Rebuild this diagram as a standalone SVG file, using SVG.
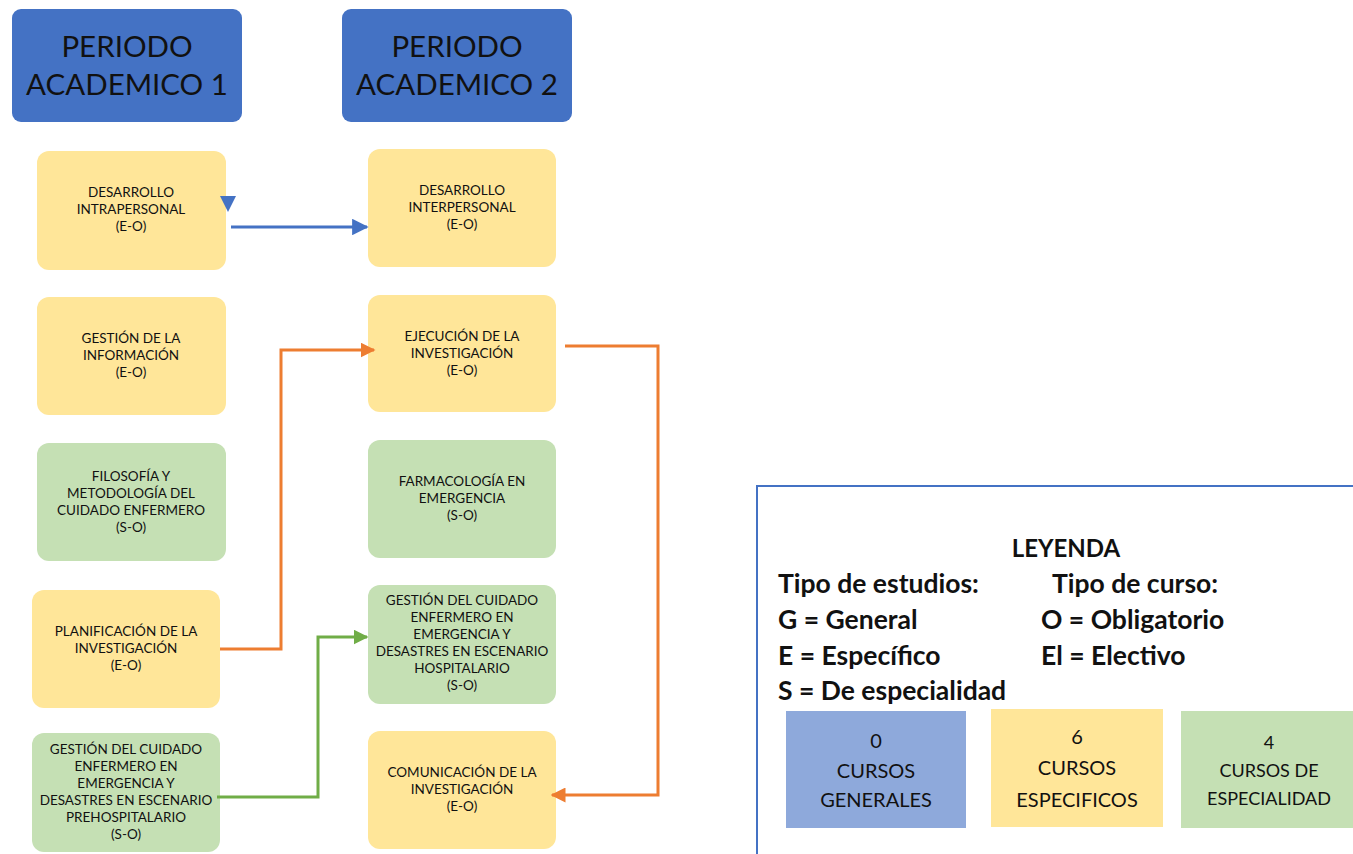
<svg xmlns="http://www.w3.org/2000/svg" width="1353" height="854" viewBox="0 0 1353 854">
<style>
text{font-family:Lato,"Open Sans","Liberation Sans",sans-serif;fill:#111;text-anchor:middle}
.hdr{fill:#4472C4}
.y{fill:#FFE699}
.g{fill:#C5E0B4}
.n{font-size:13.5px}
.h{font-size:29.5px}
.lg{font-size:26.5px;font-weight:bold;text-anchor:start}
.lgt{font-size:24px;font-weight:bold}
.c{font-size:20px}
.cb{fill:none;stroke-width:3}
</style>
<defs>
<marker id="ab" viewBox="0 0 10 10" refX="9" refY="5" markerWidth="5.5" markerHeight="5.5" orient="auto" markerUnits="strokeWidth"><path d="M0,0L10,5L0,10z" fill="#4472C4"/></marker>
<marker id="ao" viewBox="0 0 10 10" refX="9" refY="5" markerWidth="5" markerHeight="5" orient="auto" markerUnits="strokeWidth"><path d="M0,0L10,5L0,10z" fill="#ED7D31"/></marker>
<marker id="ag" viewBox="0 0 10 10" refX="9" refY="5" markerWidth="5" markerHeight="5" orient="auto" markerUnits="strokeWidth"><path d="M0,0L10,5L0,10z" fill="#70AD47"/></marker>
</defs>
<rect width="1353" height="854" fill="#fff"/>
<g id="h1"><rect class="hdr" x="12" y="9" width="230" height="113" rx="9"/><text class="h" x="127" y="57">PERIODO</text><text class="h" x="127" y="95">ACADEMICO 1</text></g>
<g id="h2"><rect class="hdr" x="342" y="9" width="230" height="113" rx="9"/><text class="h" x="457" y="57">PERIODO</text><text class="h" x="457" y="95">ACADEMICO 2</text></g>

<g id="l1"><rect class="y" x="37" y="151" width="189" height="119" rx="12"/><text class="n" x="131" y="197">DESARROLLO</text><text class="n" x="131" y="214">INTRAPERSONAL</text><text class="n" x="131" y="231">(E-O)</text></g>
<g id="l2"><rect class="y" x="37" y="297" width="189" height="118" rx="12"/><text class="n" x="131" y="343">GESTIÓN DE LA</text><text class="n" x="131" y="360">INFORMACIÓN</text><text class="n" x="131" y="377">(E-O)</text></g>
<g id="l3"><rect class="g" x="37" y="443" width="189" height="118" rx="12"/><text class="n" x="131" y="481">FILOSOFÍA Y</text><text class="n" x="131" y="498">METODOLOGÍA DEL</text><text class="n" x="131" y="515">CUIDADO ENFERMERO</text><text class="n" x="131" y="532">(S-O)</text></g>
<g id="l4"><rect class="y" x="32" y="590" width="188" height="118" rx="12"/><text class="n" x="126" y="636">PLANIFICACIÓN DE LA</text><text class="n" x="126" y="653">INVESTIGACIÓN</text><text class="n" x="126" y="670">(E-O)</text></g>
<g id="l5"><rect class="g" x="32" y="733" width="188" height="119" rx="12"/><text class="n" x="126" y="754">GESTIÓN DEL CUIDADO</text><text class="n" x="126" y="771">ENFERMERO EN</text><text class="n" x="126" y="788">EMERGENCIA Y</text><text class="n" x="126" y="805">DESASTRES EN ESCENARIO</text><text class="n" x="126" y="822">PREHOSPITALARIO</text><text class="n" x="126" y="839">(S-O)</text></g>

<g id="r1"><rect class="y" x="368" y="149" width="188" height="118" rx="12"/><text class="n" x="462" y="195">DESARROLLO</text><text class="n" x="462" y="212">INTERPERSONAL</text><text class="n" x="462" y="229">(E-O)</text></g>
<g id="r2"><rect class="y" x="368" y="295" width="188" height="117" rx="12"/><text class="n" x="462" y="341">EJECUCIÓN DE LA</text><text class="n" x="462" y="358">INVESTIGACIÓN</text><text class="n" x="462" y="375">(E-O)</text></g>
<g id="r3"><rect class="g" x="368" y="440" width="188" height="118" rx="12"/><text class="n" x="462" y="486">FARMACOLOGÍA EN</text><text class="n" x="462" y="503">EMERGENCIA</text><text class="n" x="462" y="520">(S-O)</text></g>
<g id="r4"><rect class="g" x="368" y="585" width="188" height="119" rx="12"/><text class="n" x="462" y="605">GESTIÓN DEL CUIDADO</text><text class="n" x="462" y="622">ENFERMERO EN</text><text class="n" x="462" y="639">EMERGENCIA Y</text><text class="n" x="462" y="656">DESASTRES EN ESCENARIO</text><text class="n" x="462" y="673">HOSPITALARIO</text><text class="n" x="462" y="690">(S-O)</text></g>
<g id="r5"><rect class="y" x="368" y="731" width="188" height="118" rx="12"/><text class="n" x="462" y="777">COMUNICACIÓN DE LA</text><text class="n" x="462" y="794">INVESTIGACIÓN</text><text class="n" x="462" y="811">(E-O)</text></g>

<g id="connectors">
<path d="M220,196L236,196L228,212z" fill="#4472C4"/>
<path class="cb" stroke="#4472C4" d="M231,227L367,227" marker-end="url(#ab)"/>
<path class="cb" stroke="#ED7D31" d="M220,649L281,649L281,350L374,350" marker-end="url(#ao)"/>
<path class="cb" stroke="#ED7D31" d="M565,346L658,346L658,795L552,795" marker-end="url(#ao)"/>
<path class="cb" stroke="#70AD47" d="M217,797L318,797L318,637L367,637" marker-end="url(#ag)"/>
</g>

<g id="legend">
<path d="M757,854L757,486L1353,486" fill="none" stroke="#4472C4" stroke-width="2"/>
<text class="lgt" x="1066" y="557">LEYENDA</text>
<text class="lg" x="778" y="593">Tipo de estudios:</text>
<text class="lg" x="1052" y="593">Tipo de curso:</text>
<text class="lg" x="778" y="629">G = General</text>
<text class="lg" x="1041" y="629">O = Obligatorio</text>
<text class="lg" x="778" y="665">E = Específico</text>
<text class="lg" x="1041" y="665">El = Electivo</text>
<text class="lg" x="778" y="700">S = De especialidad</text>
</g>
<g id="k1"><rect x="786" y="711" width="180" height="117" fill="#8EA9DB"/><text class="c" x="876" y="748">0</text><text class="c" x="876" y="778">CURSOS</text><text class="c" x="876" y="807">GENERALES</text></g>
<g id="k2"><rect x="991" y="709" width="172" height="118" fill="#FFE699"/><text class="c" x="1077" y="744">6</text><text class="c" x="1077" y="775">CURSOS</text><text class="c" x="1077" y="807">ESPECIFICOS</text></g>
<g id="k3"><rect x="1181" y="711" width="172" height="117" fill="#C5E0B4"/><text class="c" x="1269" y="749" style="font-size:18px">4</text><text class="c" x="1269" y="777" style="font-size:18px">CURSOS DE</text><text class="c" x="1269" y="805" style="font-size:18px">ESPECIALIDAD</text></g>
</svg>
